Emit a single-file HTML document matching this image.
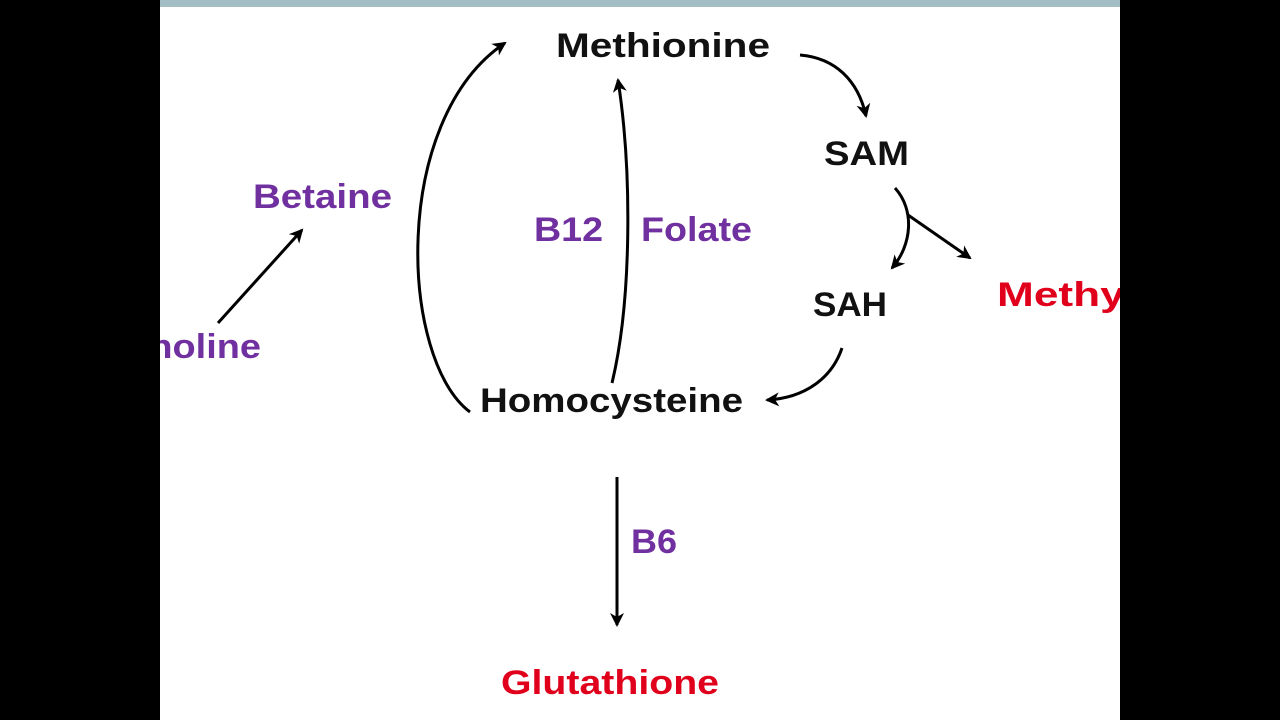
<!DOCTYPE html>
<html><head><style>
html,body{margin:0;padding:0;background:#000;}
svg{display:block}
text{font-family:"Liberation Sans",sans-serif;font-weight:bold;font-size:34px;}
</style></head><body>
<svg width="1280" height="720" viewBox="0 0 1280 720" xmlns="http://www.w3.org/2000/svg">
<defs>
<marker id="a" markerWidth="16" markerHeight="16" refX="12" refY="7" orient="auto" markerUnits="userSpaceOnUse">
<path d="M0,0 L14,7 L0,14 L4,7 Z" fill="#000"/>
</marker>
</defs>
<rect x="160" y="0" width="960" height="720" fill="#fff"/>
<rect x="160" y="0" width="960" height="7" fill="#a3bec5"/>
<g fill="#111">
<text x="556" y="57" textLength="214" lengthAdjust="spacingAndGlyphs">Methionine</text>
<text x="824" y="165" textLength="85" lengthAdjust="spacingAndGlyphs">SAM</text>
<text x="813" y="316" textLength="74" lengthAdjust="spacingAndGlyphs">SAH</text>
<text x="480" y="412" textLength="263" lengthAdjust="spacingAndGlyphs">Homocysteine</text>
</g>
<g fill="#7030a0">
<text x="253" y="208" textLength="139" lengthAdjust="spacingAndGlyphs">Betaine</text>
<text x="534" y="241" textLength="69" lengthAdjust="spacingAndGlyphs">B12</text>
<text x="641" y="241" textLength="111" lengthAdjust="spacingAndGlyphs">Folate</text>
<text x="631" y="553" textLength="46" lengthAdjust="spacingAndGlyphs">B6</text>
<text x="122" y="358" textLength="139" lengthAdjust="spacingAndGlyphs">Choline</text>
</g>
<g fill="#e0001b">
<text x="997" y="306" textLength="140" lengthAdjust="spacingAndGlyphs">Methyl</text>
<text x="501" y="694" textLength="218" lengthAdjust="spacingAndGlyphs">Glutathione</text>
</g>
<g fill="none" stroke="#000" stroke-width="3">
<path d="M470,412 C400,360 390,120 505,43" marker-end="url(#a)"/>
<path d="M612,383 C632,300 632,170 618,80" marker-end="url(#a)"/>
<path d="M800,55 C835,58 858,80 866,116" marker-end="url(#a)"/>
<path d="M895,188 C915,210 912,245 892,268" marker-end="url(#a)"/>
<path d="M908,215 L970,258" marker-end="url(#a)"/>
<path d="M842,348 C832,378 805,398 767,400" marker-end="url(#a)"/>
<path d="M218,323 L302,230" marker-end="url(#a)"/>
<path d="M617,477 L617,625" marker-end="url(#a)"/>
</g>
<rect x="0" y="0" width="160" height="720" fill="#000"/>
<rect x="1120" y="0" width="160" height="720" fill="#000"/>
</svg>
</body></html>
